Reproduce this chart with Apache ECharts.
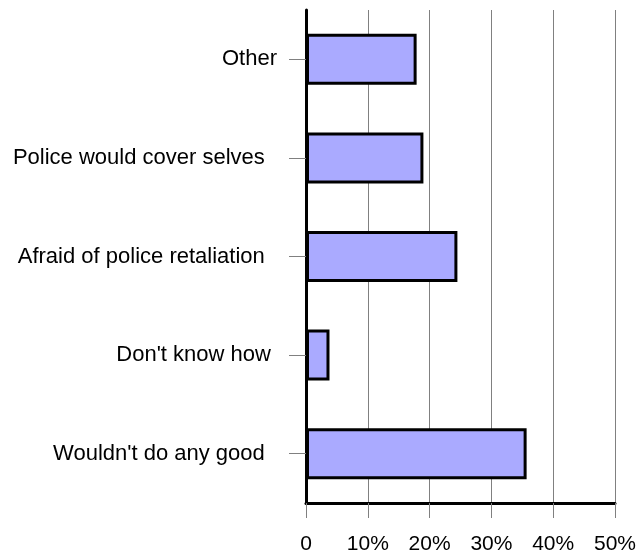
<!DOCTYPE html>
<html>
<head>
<meta charset="utf-8">
<script src="https://cdn.jsdelivr.net/npm/echarts@6/dist/echarts.min.js"></script>
<style>
html,body{margin:0;padding:0;background:#fff;}
#chart{width:639px;height:556px;}
</style>
</head>
<body>
<div id="chart"></div>
<script>
// Categories listed top to bottom (trailing spaces as in the original labels)
const categories = ["Other", "Police would cover selves  ", "Afraid of police retaliation  ", "Don't know how ", "Wouldn't do any good  "];
const values = [17.9, 19.0, 24.5, 3.8, 35.7];
const xTicks = [0, 10, 20, 30, 40, 50];

const chart = echarts.init(document.getElementById('chart'), null, {renderer: 'canvas'});
chart.setOption({
  animation: false,
  backgroundColor: '#ffffff',
  grid: {left: 306, right: 22, top: 10, bottom: 53, containLabel: false},
  xAxis: {
    type: 'value',
    min: xTicks[0],
    max: xTicks[xTicks.length - 1],
    interval: 10,
    axisLine: {show: true, lineStyle: {color: '#000', width: 3}},
    axisTick: {show: true, length: 15, lineStyle: {color: '#808080', width: 1}},
    axisLabel: {
      margin: 31,
      color: '#000',
      fontFamily: 'Liberation Sans, Arial, sans-serif',
      fontSize: 21,
      formatter: v => v === 0 ? '0' : v + '%'
    },
    splitLine: {show: true, lineStyle: {color: '#808080', width: 1}}
  },
  yAxis: {
    type: 'category',
    inverse: true,
    data: categories,
    axisLine: {show: true, lineStyle: {color: '#000', width: 3}},
    axisTick: {show: true, alignWithLabel: true, length: 17, lineStyle: {color: '#808080', width: 1}},
    axisLabel: {
      margin: 29,
      color: '#000',
      fontFamily: 'Liberation Sans, Arial, sans-serif',
      fontSize: 22
    },
    splitLine: {show: false}
  },
  series: [{
    type: 'bar',
    data: values,
    barWidth: 51,
    itemStyle: {color: '#aaaaff', borderColor: '#000', borderWidth: 3}
  }]
});
</script>
</body>
</html>
